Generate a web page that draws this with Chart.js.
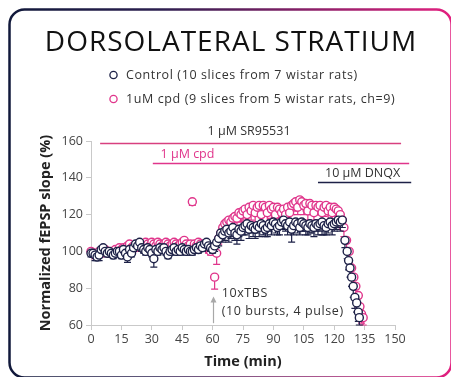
<!DOCTYPE html>
<html>
<head>
<meta charset="utf-8">
<script src="https://cdn.jsdelivr.net/npm/chart.js@4.4.0/dist/chart.umd.min.js"></script>
<style>
    html, body {margin: 0; padding: 0; background: #fff;}
    #wrap {position: relative; width: 451px; height: 377px;}
</style>
</head>
<body>
<div id="wrap"><canvas id="chart" width="451" height="377"></canvas></div>
<script>
// ---- data (time in min, fEPSP slope in % of baseline) ----
const ctrlTime = [
    0, 1, 2, 3, 4, 5, 6, 7, 8, 9, 10, 11, 12, 13, 14, 15, 16, 17, 18, 19,
    20, 21, 22, 23, 24, 25, 26, 27, 28, 29, 30, 31, 32, 33, 34, 35, 36, 37, 38, 39,
    40, 41, 42, 43, 44, 45, 46, 47, 48, 49, 50, 51, 52, 53, 54, 55, 56, 57, 58, 59, 60,
    61, 62, 63, 64, 65, 66, 67, 68, 69, 70, 71, 72, 73, 74, 75, 76, 77, 78, 79, 80,
    81, 82, 83, 84, 85, 86, 87, 88, 89, 90, 91, 92, 93, 94, 95, 96, 97, 98, 99, 100,
    101, 102, 103, 104, 105, 106, 107, 108, 109, 110, 111, 112, 113, 114, 115, 116, 117, 118, 119, 120,
    121, 122, 123, 124,
    125.3, 126.4, 127.1, 127.8, 128.6, 129.4, 130.2, 131.1, 131.9, 132.4
];
const ctrlMean = [
    99, 99, 98, 97, 98, 101, 102, 100, 99, 100,
    99, 98, 99, 100, 100, 98, 101, 99, 97, 101,
    99, 102, 104, 103, 105, 102, 101, 100, 102, 101,
    99, 96, 101, 100, 102, 101, 102, 100, 98, 100,
    101, 102, 100, 101, 100, 102, 101, 100, 101, 100,
    100, 101, 102, 101, 103, 102, 104, 105, 103, 102,
    101,
    103, 105, 107, 110, 109, 111, 112, 110, 111, 113,
    110, 109, 112, 111, 113, 114, 115, 112, 114, 113,
    112, 114, 113, 115, 114, 112, 113, 115, 114, 116,
    115, 113, 114, 116, 117, 115, 114, 116, 112, 114,
    116, 115, 113, 116, 115, 114, 113, 115, 114, 113,
    115, 114, 115, 116, 114, 113, 115, 116, 114, 115,
    116, 117, 116, 117,
    106, 100, 95, 91, 86, 81, 75, 72, 67, 64
];
const ctrlSem = [
    2, 2, 3, 2, 3, 2, 2, 2, 2, 2,
    2, 2, 2, 2, 2, 2, 2, 2, 3, 2,
    2, 2, 2, 2, 2, 2, 2, 2, 2, 2,
    2, 4.5, 2, 2, 2, 2, 2, 2, 2, 2,
    2, 2, 2, 2, 2, 2, 2, 2, 2, 2,
    2, 2, 2, 2, 2, 2, 2, 2, 2, 2,
    2,
    3, 3, 4, 4, 4, 5, 4, 5, 4, 5,
    4, 5, 4, 5, 4, 5, 4, 5, 4, 5,
    5, 4, 5, 4, 5, 4, 5, 4, 5, 4,
    5, 4, 5, 4, 5, 4, 5, 4, 7, 5,
    4, 5, 4, 5, 4, 5, 4, 5, 4, 5,
    4, 5, 4, 7, 5, 4, 5, 4, 5, 4,
    4, 4, 5, 4,
    4, 4, 5, 5, 5, 6, 6, 5, 5, 4
];

const cpdTime = [
    0, 1, 2, 3, 4, 5, 6, 7, 8, 9, 10, 11, 12, 13, 14, 15, 16, 17, 18, 19,
    20, 21, 22, 23, 24, 25, 26, 27, 28, 29, 30, 31, 32, 33, 34, 35, 36, 37, 38, 39,
    40, 41, 42, 43, 44, 45, 46, 47, 48, 49, 50, 51, 52, 53, 54, 55, 56, 57, 58, 59, 60,
    61, 62,
    63, 64, 65, 66, 67, 68, 69, 70, 71, 72, 73, 74, 75, 76, 77, 78, 79, 80,
    81, 82, 83, 84, 85, 86, 87, 88, 89, 90, 91, 92, 93, 94, 95, 96, 97, 98, 99, 100,
    101, 102, 103, 104, 105, 106, 107, 108, 109, 110, 111, 112, 113, 114, 115, 116, 117, 118, 119, 120,
    121, 122, 123, 124, 124.8,
    126.1, 127.4, 128.6, 129.7, 130.7, 131.9, 132.7, 133.5, 134.3
];
const cpdMean = [
    100, 99, 98, 99, 100, 99, 100, 101, 100, 99,
    100, 99, 101, 100, 102, 101, 102, 101, 103, 104,
    102, 103, 102, 104, 103, 104, 103, 105, 104, 103,
    105, 104, 103, 105, 104, 103, 104, 105, 104, 103,
    104, 105, 104, 103, 104, 105, 106, 104, 103, 104,
    127, 104, 103, 105, 104, 103, 104, 102, 101, 100,
    102,
    86, 99,
    107, 110, 113, 115, 116, 117, 116, 118,
    119, 118, 121, 120, 122, 123, 120, 124, 122, 125,
    121, 124, 125, 120, 125, 124, 121, 125, 123, 124,
    120, 124, 123, 121, 123, 120, 124, 121, 125, 126,
    127, 124, 128, 127, 125, 126, 122, 126, 125, 121,
    125, 124, 125, 121, 124, 125, 122, 124, 121, 124,
    123, 122, 120, 117, 113,
    106, 100, 91, 86, 81, 76, 70, 66, 64
];
const cpdSem = [
    2, 2, 2, 2, 2, 2, 2, 2, 2, 2,
    2, 2, 2, 2, 2, 2, 2, 2, 2, 2,
    2, 2, 2, 2, 2, 2, 2, 2, 2, 2,
    2, 2, 2, 2, 2, 2, 2, 2, 2, 2,
    2, 2, 2, 2, 2, 2, 2, 2, 2, 2,
    2, 2, 2, 2, 2, 2, 2, 2, 2, 2,
    2,
    6.5, 6,
    3, 4, 4, 4, 5, 4, 5, 4,
    5, 4, 5, 4, 5, 4, 5, 4, 5, 4,
    5, 4, 5, 4, 5, 4, 5, 4, 5, 4,
    5, 4, 5, 4, 5, 4, 5, 4, 5, 4,
    5, 4, 5, 4, 5, 4, 5, 4, 5, 4,
    5, 4, 5, 4, 5, 4, 5, 4, 5, 4,
    4, 5, 4, 5, 5,
    5, 6, 6, 6, 6, 6, 6, 5, 4
];

const seriesLabels = ['Control (10 slices from 7 wistar rats)', '1uM cpd (9 slices from 5 wistar rats, ch=9)'];
const xTicks = [0, 15, 30, 45, 60, 75, 90, 105, 120, 135, 150];
const yTicks = [60, 80, 100, 120, 140, 160];

// drug application bars: [label, start min, end min]
const drugs = [
    ['1 μM SR95531', 4.5, 153],
    ['1 μM cpd', 30.5, 157],
    ['10 μM DNQX', 112, 158]
];
const tbsTime = 60;

// ---- styles ----
const NAVY = '#1d2147';
const PINK = '#e0358b';
const FONT = "'Open Sans', sans-serif";
const AXIS = '#c9c9c9';

// where each drug bar sits (value units) and how it is labelled
const drugStyle = [
    {level: 158.7, textX: 78, textY: 165.3, line: '#d8407f', text: '#333'},
    {level: 148.2, textX: 47.6, textY: 152.8, line: PINK, text: PINK},
    {level: 137.8, textX: 134, textY: 142.4, line: NAVY, text: '#333'}
];

function toPoints(xs, ys) {
    return xs.map((x, i) => ({x: x, y: ys[i]}));
}

const framePlugin = {
    id: 'frame',
    beforeDraw(chart) {
        const ctx = chart.ctx;
        const g = ctx.createLinearGradient(0, 0, 451, 0);
        g.addColorStop(0, '#0f1839');
        g.addColorStop(0.35, '#2b1f4f');
        g.addColorStop(1, '#e2207f');
        ctx.save();
        ctx.strokeStyle = g;
        ctx.lineWidth = 2.5;
        ctx.beginPath();
        ctx.roundRect(9.5, 9.5, 442, 368, 15);
        ctx.stroke();
        ctx.restore();
    }
};

const headerPlugin = {
    id: 'header',
    afterDraw(chart) {
        const ctx = chart.ctx;
        ctx.save();
        ctx.fillStyle = '#111';
        ctx.font = "400 28px " + FONT;
        ctx.letterSpacing = '1px';
        ctx.textAlign = 'center';
        ctx.textBaseline = 'middle';
        ctx.fillText('DORSOLATERAL STRATIUM', 231, 43);

        const colors = [NAVY, PINK];
        const rows = [75, 99];
        ctx.font = "400 12.5px " + FONT;
        ctx.letterSpacing = '0.6px';
        ctx.textAlign = 'left';
        for (let i = 0; i < seriesLabels.length; i++) {
            ctx.beginPath();
            ctx.arc(113.5, rows[i], 3.6, 0, Math.PI * 2);
            ctx.fillStyle = '#fff';
            ctx.fill();
            ctx.lineWidth = 1.3;
            ctx.strokeStyle = colors[i];
            ctx.stroke();
            ctx.fillStyle = '#333';
            ctx.fillText(seriesLabels[i], 126, rows[i] + 0.5);
        }
        ctx.restore();
    }
};

const semArrays = [ctrlSem, cpdSem];
const meanArrays = [ctrlMean, cpdMean];

const errorBarPlugin = {
    id: 'errorBars',
    beforeDatasetDraw(chart, args) {
        const ctx = chart.ctx;
        const yScale = chart.scales.y;
        const sem = semArrays[args.index];
        const mean = meanArrays[args.index];
        const color = chart.data.datasets[args.index].borderColor;
        ctx.save();
        ctx.strokeStyle = color;
        ctx.lineWidth = 1.2;
        args.meta.data.forEach((el, i) => {
            const yLow = yScale.getPixelForValue(mean[i] - sem[i]);
            ctx.beginPath();
            ctx.moveTo(el.x, el.y);
            ctx.lineTo(el.x, yLow);
            ctx.moveTo(el.x - 3.5, yLow);
            ctx.lineTo(el.x + 3.5, yLow);
            ctx.stroke();
        });
        ctx.restore();
    }
};

const annotationPlugin = {
    id: 'annotations',
    afterDraw(chart) {
        const ctx = chart.ctx;
        const xs = chart.scales.x;
        const ys = chart.scales.y;
        ctx.save();
        ctx.font = "400 12.5px " + FONT;
        ctx.textAlign = 'center';
        ctx.textBaseline = 'middle';
        drugs.forEach((d, i) => {
            const st = drugStyle[i];
            const yy = Math.round(ys.getPixelForValue(st.level)) + 0.5;
            ctx.strokeStyle = st.line;
            ctx.lineWidth = 1.3;
            ctx.beginPath();
            ctx.moveTo(xs.getPixelForValue(d[1]), yy);
            ctx.lineTo(xs.getPixelForValue(d[2]), yy);
            ctx.stroke();
            ctx.fillStyle = st.text;
            ctx.fillText(d[0], xs.getPixelForValue(st.textX), ys.getPixelForValue(st.textY));
        });

        // TBS arrow
        const ax = Math.round(xs.getPixelForValue(tbsTime)) + 0.5;
        const yBot = ys.getPixelForValue(61);
        const yTop = ys.getPixelForValue(75.5);
        ctx.strokeStyle = '#a8a8a8';
        ctx.fillStyle = '#a8a8a8';
        ctx.lineWidth = 1.2;
        ctx.beginPath();
        ctx.moveTo(ax, yBot);
        ctx.lineTo(ax, yTop + 4);
        ctx.stroke();
        ctx.beginPath();
        ctx.moveTo(ax, yTop);
        ctx.lineTo(ax - 3, yTop + 6);
        ctx.lineTo(ax + 3, yTop + 6);
        ctx.closePath();
        ctx.fill();

        ctx.fillStyle = '#333';
        ctx.textAlign = 'left';
        ctx.letterSpacing = '0.6px';
        ctx.fillText('10xTBS', xs.getPixelForValue(64.5), ys.getPixelForValue(77.3));
        ctx.fillText('(10 bursts, 4 pulse)', xs.getPixelForValue(64.5), ys.getPixelForValue(67.6));
        ctx.restore();
    }
};

new Chart(document.getElementById('chart'), {
    type: 'scatter',
    data: {
        datasets: [
            {
                label: seriesLabels[0],
                data: toPoints(ctrlTime, ctrlMean),
                borderColor: NAVY,
                backgroundColor: '#fff',
                pointRadius: 4,
                pointBorderWidth: 1.4,
                clip: false
            },
            {
                label: seriesLabels[1],
                data: toPoints(cpdTime, cpdMean),
                borderColor: PINK,
                backgroundColor: '#fff',
                pointRadius: 4,
                pointBorderWidth: 1.4,
                clip: false
            }
        ]
    },
    options: {
        responsive: false,
        animation: false,
        devicePixelRatio: 1,
        layout: {padding: {left: 20, right: 56, top: 141, bottom: 0}},
        plugins: {
            legend: {display: false},
            tooltip: {enabled: false}
        },
        scales: {
            x: {
                type: 'linear',
                min: 0,
                max: 150,
                afterBuildTicks: (s) => { s.ticks = xTicks.map(v => ({value: v})); },
                afterFit: (s) => { s.height = 52; },
                grid: {drawOnChartArea: false, color: AXIS, tickLength: 5},
                border: {color: AXIS},
                ticks: {autoSkip: false, maxRotation: 0, padding: 2, color: '#444', font: {family: FONT, size: 12.5}},
                title: {display: true, text: 'Time (min)', color: '#222', padding: {bottom: 6, top: 0}, font: {family: FONT, size: 14.5, weight: 'bold'}}
            },
            y: {
                min: 60,
                max: 160,
                afterBuildTicks: (s) => { s.ticks = yTicks.map(v => ({value: v})); },
                afterFit: (s) => { s.width = 71; },
                grid: {drawOnChartArea: false, color: AXIS, tickLength: 5},
                border: {color: AXIS},
                ticks: {padding: 3, color: '#444', font: {family: FONT, size: 12.5}},
                title: {display: true, text: 'Normalized fEPSP slope (%)', color: '#222', padding: {top: 17, bottom: 0}, font: {family: FONT, size: 14.5, weight: 'bold'}}
            }
        }
    },
    plugins: [framePlugin, errorBarPlugin, annotationPlugin, headerPlugin]
});
</script>
</body>
</html>
